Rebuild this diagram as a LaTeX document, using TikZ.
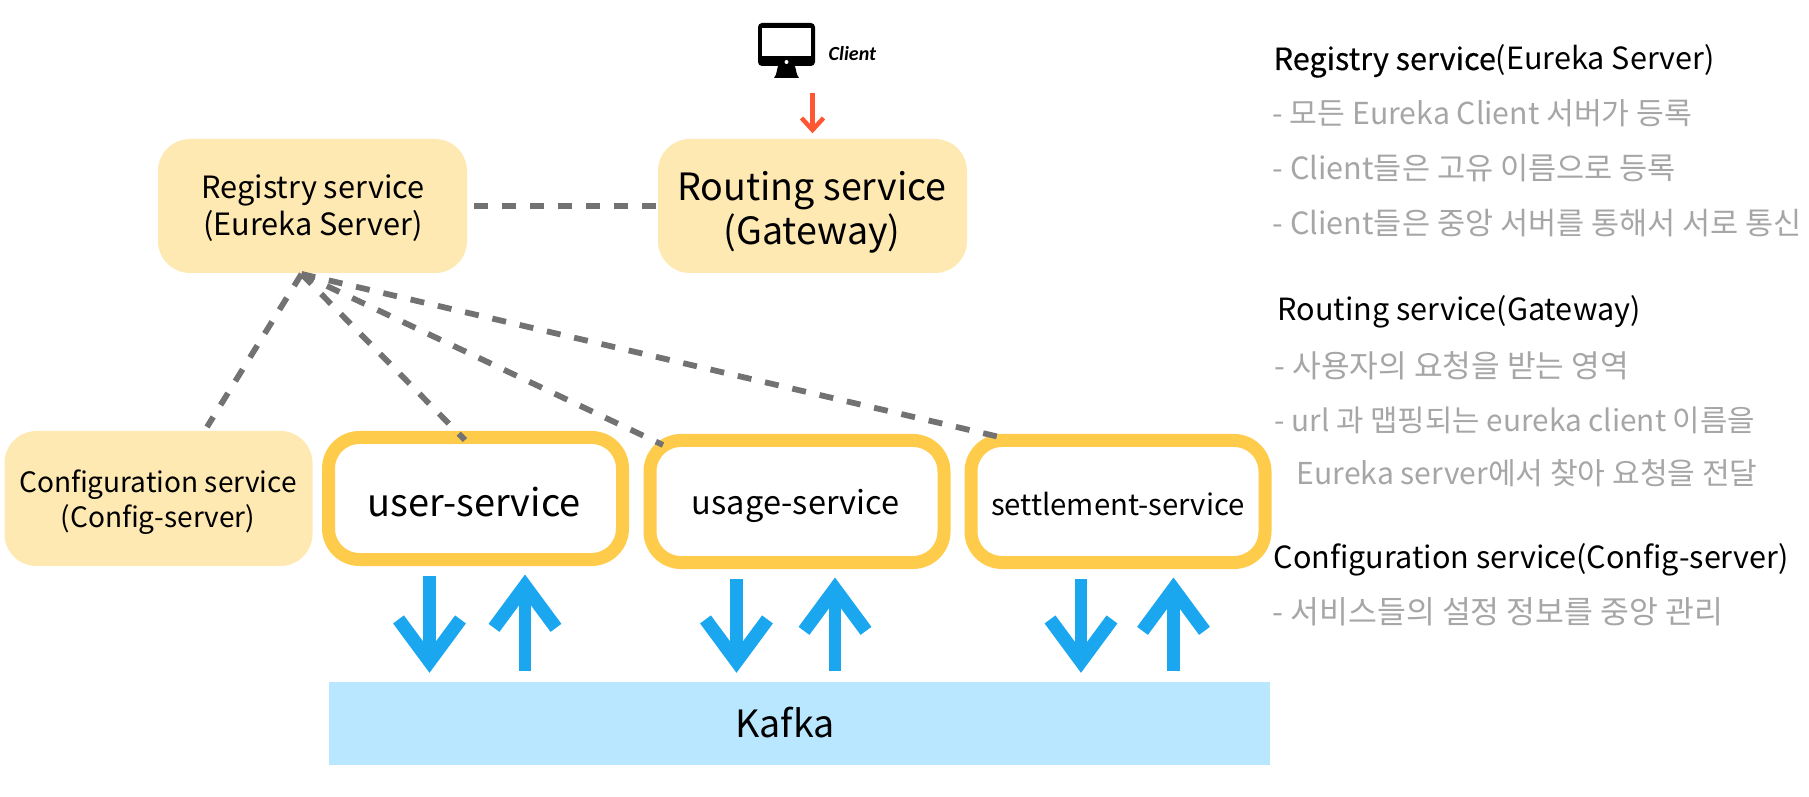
\documentclass[tikz,border=0pt]{standalone}
\usepackage{fontspec}
\setmainfont{Noto Sans CJK KR}
\newfontfamily\clientfont{Carlito}
\newfontfamily\heavyfont{Noto Sans CJK KR}[FakeBold=0.4]
\usetikzlibrary{arrows.meta}
\definecolor{softyellow}{HTML}{FFE9B3}
\definecolor{ringyellow}{HTML}{FFCB4A}
\definecolor{kafkablue}{HTML}{B8E7FF}
\definecolor{flowblue}{HTML}{1AA7F0}
\definecolor{requestred}{HTML}{FF5733}
\definecolor{linkgray}{HTML}{727272}
\definecolor{notegray}{HTML}{A6A6A6}
\tikzset{
  infrabox/.style={fill=softyellow, rounded corners=0.32cm, inner sep=0pt},
  servicebox/.style={draw=ringyellow, line width=0.13cm, rounded corners=0.31cm, fill=white, inner sep=0pt, minimum width=2.94cm, minimum height=1.22cm},
  boxtext/.style={align=center, inner sep=0pt},
  reglink/.style={draw=linkgray, line width=0.058cm, dash pattern=on 0.14cm off 0.14cm},
  kafkaflow/.style={draw=flowblue, line width=0.125cm, shorten <=0.1cm, shorten >=0.085cm, -{Straight Barb[length=0.42cm, width=0.62cm, line width=0.135cm]}},
  title/.style={anchor=base west, inner sep=0pt, font=\fontsize{8.7}{10}\selectfont},
  note/.style={anchor=base west, inner sep=0pt, text=notegray, font=\fontsize{8.7}{10}\selectfont}
}
\begin{document}
\begin{tikzpicture}
\useasboundingbox (0,0) rectangle (18.09,-7.97);
% boxes
\node (registry) at (3.125,-2.06) [infrabox, minimum width=3.09cm, minimum height=1.34cm] {};
\node (routing) at (8.125,-2.06) [infrabox, minimum width=3.09cm, minimum height=1.34cm] {};
\node (config) at (1.585,-4.985) [infrabox, minimum width=3.08cm, minimum height=1.35cm] {};
\node (user) at (4.755,-4.985) [servicebox] {};
\node (usage) at (7.97,-5.015) [servicebox] {};
\node (settlement) at (11.18,-5.015) [servicebox] {};
\node (kafka) at (7.995,-7.235) [fill=kafkablue, minimum width=9.41cm, minimum height=0.83cm, inner sep=0pt] {};
% box labels
\node (registrytext) at (3.13,-2.08) [boxtext, font=\fontsize{8.73}{10.5}\selectfont] {Registry service\\(Eureka Server)};
\node (routingtext) at (8.12,-2.12) [boxtext, font=\fontsize{10.7}{12.6}\selectfont] {Routing service\\(Gateway)};
\node (configtext) at (1.58,-5.02) [boxtext, font=\fontsize{7.98}{9.8}\selectfont] {Configuration service\\(Config-server)};
\node (usertext) at (4.74,-5.02) [boxtext, font=\fontsize{10.8}{12}\selectfont] {user-service};
\node (usagetext) at (7.957,-5.06) [boxtext, font=\fontsize{9.26}{11}\selectfont] {usage-service};
\node (settlementtext) at (11.18,-5.04) [boxtext, font=\fontsize{8.35}{10}\selectfont] {settlement-service};
\node (kafkatext) at (7.85,-7.225) [boxtext, font=\fontsize{10.7}{12}\selectfont] {Kafka};
% client
\fill [black, rounded corners=0.04cm] (7.58,-0.23) rectangle (8.15,-0.66);
\fill [white] (7.62,-0.28) rectangle (8.11,-0.56);
\fill [white] (7.865,-0.62) circle [radius=0.02];
\fill [black] (7.78,-0.66) -- (7.95,-0.66) -- (7.97,-0.745) -- (7.99,-0.78) -- (7.74,-0.78) -- (7.76,-0.745) -- cycle;
\node (client) at (8.28,-0.54) [anchor=west, inner sep=0pt, font=\clientfont\bfseries\itshape\fontsize{5.7}{7}\selectfont] {Client};
\coordinate (clientout) at (8.125,-0.93);
\draw [draw=requestred, line width=0.045cm, shorten >=0.05cm, -{Straight Barb[length=0.12cm, width=0.22cm, line width=0.045cm]}] (clientout) -- (routing.north);
% registry links
\coordinate (fan) at (3.015,-2.74);
\coordinate (configtop) at (2.07,-4.27);
\coordinate (usertop) at (4.65,-4.40);
\coordinate (usagetop) at (6.63,-4.45);
\coordinate (settlementtop) at (9.995,-4.37);
\draw [reglink, line width=0.065cm] ([xshift=0.06cm]registry.east) -- (routing.west);
\draw [reglink] (fan) -- (configtop);
\draw [reglink] (fan) -- (usertop);
\draw [reglink] (fan) -- (usagetop);
\draw [reglink] (fan) -- (settlementtop);
% kafka flows
\coordinate (userdown) at (4.295,0);
\coordinate (userup) at (5.25,0);
\coordinate (usagedown) at (7.365,0);
\coordinate (usageup) at (8.35,0);
\coordinate (settlementdown) at (10.81,0);
\coordinate (settlementup) at (11.735,0);
\draw [kafkaflow] (userdown |- user.south) -- (userdown |- kafka.north);
\draw [kafkaflow] (userup |- kafka.north) -- (userup |- user.south);
\draw [kafkaflow] (usagedown |- usage.south) -- (usagedown |- kafka.north);
\draw [kafkaflow] (usageup |- kafka.north) -- (usageup |- usage.south);
\draw [kafkaflow] (settlementdown |- settlement.south) -- (settlementdown |- kafka.north);
\draw [kafkaflow] (settlementup |- kafka.north) -- (settlementup |- settlement.south);
% notes
\node (regtitle) at (12.73,-0.70) [title] {{\heavyfont Registry service}(Eureka Server)};
\node (regone) at (12.72,-1.25) [note, font=\fontsize{8.6}{10}\selectfont] {- 모든 Eureka Client 서버가 등록};
\node (regtwo) at (12.72,-1.80) [note] {- Client들은 고유 이름으로 등록};
\node (regthree) at (12.72,-2.35) [note] {- Client들은 중앙 서버를 통해서 서로 통신};
\node (routetitle) at (12.77,-3.21) [title] {Routing service(Gateway)};
\node (routeone) at (12.74,-3.77) [note, font=\fontsize{8.87}{10}\selectfont] {- 사용자의 요청을 받는 영역};
\node (routetwo) at (12.74,-4.31) [note, font=\fontsize{8.47}{10}\selectfont] {- url 과 맵핑되는 eureka client 이름을};
\node (routethree) at (12.96,-4.85) [note, font=\fontsize{8.57}{10}\selectfont] {Eureka server에서 찾아 요청을 전달};
\node (conftitle) at (12.73,-5.68) [title] {Configuration service(Config-server)};
\node (confone) at (12.72,-6.23) [note, font=\fontsize{8.93}{10}\selectfont] {- 서비스들의 설정 정보를 중앙 관리};
\end{tikzpicture}
\end{document}
